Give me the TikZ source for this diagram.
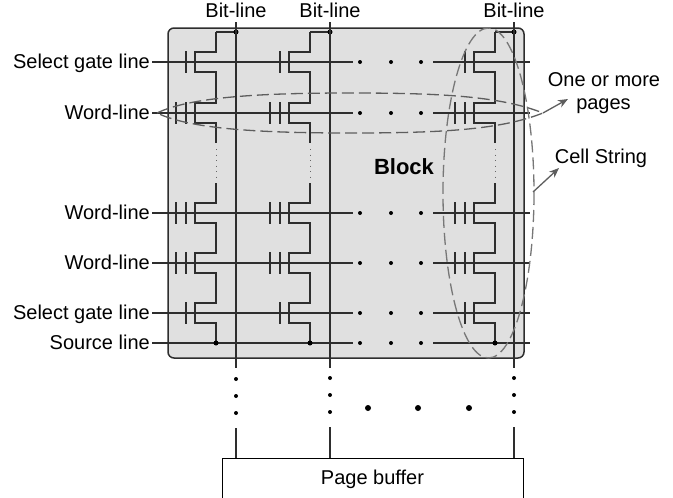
\documentclass[tikz,border=0pt]{standalone}
\usepackage{fontspec}
\setmainfont{Liberation Sans}
\usetikzlibrary{arrows.meta,positioning,calc}
\definecolor{blockGray}{HTML}{E0E0E0}
\definecolor{wireDark}{HTML}{2E2E2E}
\definecolor{dashGray}{HTML}{5E5E5E}
\definecolor{loopGray}{HTML}{777777}
\tikzset{
    wire/.style={draw=wireDark, line width=1.4pt},
    lineLabel/.style={font=\fontsize{20}{20}\selectfont, text=black, inner sep=0pt, anchor=base east},
    freeLabel/.style={font=\fontsize{20}{20}\selectfont, text=black, inner sep=0pt, anchor=base},
    bitLabel/.style={font=\fontsize{20}{20}\selectfont, text=black, inner sep=4pt, anchor=base},
    pageLoop/.style={draw=dashGray, line width=1.3pt, dash pattern=on 12pt off 5pt},
    stringLoop/.style={draw=loopGray, line width=1.3pt, dash pattern=on 12pt off 5pt},
    pointer/.style={draw=dashGray, line width=1.3pt, -{Stealth[length=10pt,width=8pt]}}
}
% one cell: channel notch at (x, y) around its gate line
\newcommand{\cellnotch}[2]{%
    \draw[wire] (#1+21,#2-30) -- (#1+21,#2-10) -- (#1,#2-10) -- (#1,#2+10) -- (#1+21,#2+10) -- (#1+21,#2+30);
    \draw[wire] (#1-9,#2-11) -- (#1-9,#2+11);
}
\newcommand{\cellfloat}[2]{\draw[wire] (#1-19,#2-11) -- (#1-19,#2+11);}
\begin{document}
\begin{tikzpicture}[x=1pt,y=-1pt]
    \useasboundingbox (0,0) rectangle (673,498);
    \draw[fill=blockGray, draw=wireDark, line width=1.5pt, rounded corners=6pt] (168,28) rectangle (524,358);

    % labels on the left
    \node[lineLabel] (selTop) at (150,68.5) {Select gate line};
    \node[lineLabel] (wordA) at (150,119.5) {Word-line};
    \node[lineLabel] (wordB) at (150,219.5) {Word-line};
    \node[lineLabel] (wordC) at (150,269.5) {Word-line};
    \node[lineLabel] (selBot) at (150,319.5) {Select gate line};
    \node[lineLabel] (srcLine) at (150,349.5) {Source line};

    % horizontal lines, left part and right part
    \foreach \nm/\yy in {selTop/62,wordA/113,wordB/213,wordC/263,selBot/313,srcLine/343} {
        \coordinate (\nm B) at (152,\yy);
        \coordinate (\nm L) at (353,\yy);
        \coordinate (\nm S) at (433,\yy);
        \coordinate (\nm R) at (530,\yy);
        \draw[wire] (\nm B) -- (\nm L);
        \draw[wire] (\nm S) -- (\nm R);
        \foreach \x in {360,391,421} \fill[black] (\x,\yy) circle (2pt);
    }

    % cell strings
    \foreach \col/\bx in {195/236,289/330,474/514} {
        \foreach \yy in {62,113,213,263,313} \cellnotch{\col}{\yy};
        \foreach \yy in {113,213,263} \cellfloat{\col}{\yy};
        \draw[wire] (\col+21,32) -- (\bx,32);
        \draw[black!60, line width=1pt, dash pattern=on 1pt off 4.5pt] (\col+21,149) -- (\col+21,181);
        \draw[wire] (\col+21,323) -- (\col+21,343);
        \fill[black] (\bx,32) circle (2.5pt);
        \fill[black] (\col+21,343) circle (2.5pt);
    }

    % bit-lines and page buffer
    \node[bitLabel] (bitA) at (236,17.7) {Bit-line};
    \node[bitLabel] (bitB) at (330,17.7) {Bit-line};
    \node[bitLabel] (bitC) at (514,17.7) {Bit-line};
    \node[draw=black, line width=1pt, minimum width=301pt, minimum height=40pt, inner sep=0pt, text height=16pt, text depth=4pt, font=\fontsize{20}{20}\selectfont] (pageBuf) at (372.5,478) {Page buffer};
    \foreach \nm/\bx/\dy in {bitA/236/1,bitB/330/0,bitC/514/0} {
        \coordinate (\nm End) at (\bx,368);
        \coordinate (\nm Low) at (\bx,427+\dy);
        \draw[wire] (\nm.south) -- (\nm End);
        \draw[wire] (\nm Low) -- (\nm Low |- pageBuf.north);
        \foreach \yy in {378,395,412} \fill[black] (\bx,\yy+\dy) circle (2pt);
    }
    \foreach \x in {368,418,469} \fill[black] (\x,408) circle (3pt);

    % the two groups
    \node[freeLabel, font=\fontsize{22}{22}\selectfont\bfseries] (blockName) at (404,174) {Block};
    \draw[pageLoop] (157,113) .. controls (190,97) and (260,93) .. (350,93) .. controls (440,93) and (500,96) .. (543,113) .. controls (500,130) and (440,133) .. (350,133) .. controls (260,133) and (190,129) .. cycle;
    \draw[stringLoop] (488.5,193) ellipse (45.5 and 165);
    \node[freeLabel] (pagesA) at (604,86) {One or more};
    \node[freeLabel] (pagesB) at (603.5,109.5) {pages};
    \node[freeLabel] (cellName) at (601,163.5) {Cell String};
    \coordinate (pagesTip) at (543,113);
    \coordinate (cellTip) at (533,192);
    \draw[pointer] (pagesTip) -- (568,99);
    \draw[pointer] (cellTip) -- (559,168);
\end{tikzpicture}
\end{document}
